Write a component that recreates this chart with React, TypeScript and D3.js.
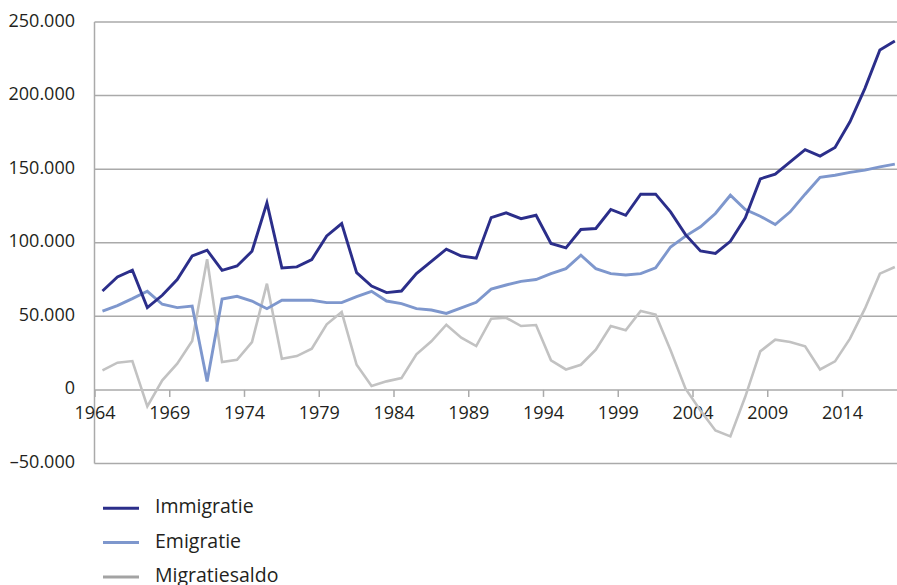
import React from "react";
import * as d3 from "d3";

const years: number[] = [
  1964, 1965, 1966, 1967, 1968, 1969, 1970, 1971, 1972, 1973, 1974, 1975, 1976, 1977,
  1978, 1979, 1980, 1981, 1982, 1983, 1984, 1985, 1986, 1987, 1988, 1989, 1990, 1991,
  1992, 1993, 1994, 1995, 1996, 1997, 1998, 1999, 2000, 2001, 2002, 2003, 2004,
  2005, 2006, 2007, 2008, 2009, 2010, 2011, 2012, 2013, 2014, 2015, 2016, 2017,
];

const immigratie: number[] = [
  67200, 76700, 81300, 55900, 64300, 75000, 91000, 94900, 81300, 84200, 94200, 127100, 82900, 83600,
  88600, 104600, 113000, 79700, 70600, 66100, 67200, 79000, 87400, 95600, 91000, 89500, 117100, 120300,
  116400, 118700, 99500, 96500, 109000, 109700, 122600, 118700, 133000, 133000, 121000, 105500, 94400,
  92700, 101000, 116900, 143400, 146600, 155000, 163200, 158900, 164800, 182200, 204900, 231000, 237100,
];

const emigratie: number[] = [
  53600, 57300, 62000, 67000, 58200, 55900, 57000, 5800, 61800, 63600, 60400, 55200, 60900, 60900,
  60900, 59300, 59300, 63400, 67000, 60400, 58600, 55200, 54300, 52000, 55700, 59500, 68500, 71300,
  73800, 75000, 79000, 82400, 91500, 82400, 79000, 78100, 79000, 82900, 97100, 104500, 110800,
  119900, 132300, 122600, 118000, 112400, 121000, 133000, 144400, 145900, 147800, 149300, 151600, 153400,
];

const migratiesaldo: number[] = [
  13300, 18500, 19600, -11200, 6500, 17800, 33200, 88800, 18900, 20500, 32500, 72200, 21200, 23000,
  28000, 44600, 52900, 17100, 2600, 5800, 8000, 24200, 33000, 44300, 35500, 29800, 48400, 49000,
  43400, 44100, 20100, 13900, 17100, 27300, 43400, 40500, 53600, 51200, 26900, 800, -14000,
  -27600, -31600, -4500, 26200, 34100, 32500, 29600, 13900, 19400, 34800, 55200, 79000, 83500,
];

const yTicks: number[] = [-50000, 0, 50000, 100000, 150000, 200000, 250000];
const yTickLabels: string[] = ["\u201350.000", "0", "50.000", "100.000", "150.000", "200.000", "250.000"];
const xTickYears: number[] = [1964, 1969, 1974, 1979, 1984, 1989, 1994, 1999, 2004, 2009, 2014];

const seriesNames: string[] = ["Immigratie", "Emigratie", "Migratiesaldo"];
const seriesColors: string[] = ["#2b2e8a", "#7e97cd", "#c2c2c2"];
const legendColors: string[] = ["#2b2e8a", "#7e97cd", "#a3a3a3"];

export default function App() {
  const W = 897;
  const H = 585;
  const left = 94.5;
  const bw = 14.95;
  const x = d3
    .scaleBand<number>()
    .domain(years)
    .range([95, 95 + years.length * bw])
    .paddingInner(0)
    .paddingOuter(0);
  const y = d3.scaleLinear().domain([-50000, 250000]).range([463.5, 22]);

  const series = [immigratie, emigratie, migratiesaldo];
  const line = d3
    .line<number>()
    .x((_, i) => (x(years[i]) as number) + x.bandwidth() / 2)
    .y((d) => y(d));

  const font = "'Open Sans', 'Noto Sans', sans-serif";
  const textColor = "#231f20";
  const gridColor = "#aaaaaa";

  return (
    <svg
      width={W}
      height={H}
      style={{ position: "absolute", left: 0, top: 0, background: "#fff" }}
      fontFamily={font}
    >
      {/* gridlines */}
      {yTicks.map((t) => (
        <line key={"g" + t} x1={left} x2={W + 10} y1={y(t)} y2={y(t)} stroke={gridColor} strokeWidth={1.5} />
      ))}
      {/* y axis line */}
      <line x1={left} x2={left} y1={y(250000)} y2={y(-50000)} stroke={gridColor} strokeWidth={1.5} />
      {/* x ticks on zero line */}
      {xTickYears.map((yr) => (
        <line
          key={"t" + yr}
          x1={(x(yr) as number)}
          x2={(x(yr) as number)}
          y1={y(0)}
          y2={y(0) + 7}
          stroke={gridColor}
          strokeWidth={1.5}
        />
      ))}
      {/* y labels */}
      {yTicks.map((t, i) => (
        <text
          key={"yl" + t}
          x={75}
          y={y(t) + 4.5}
          textAnchor="end"
          fontSize={18}
          fill={textColor}
        >
          {yTickLabels[i]}
        </text>
      ))}
      {/* x labels */}
      {xTickYears.map((yr) => (
        <text key={"xl" + yr} x={x(yr) as number} y={419} textAnchor="middle" fontSize={18} fill={textColor}>
          {String(yr)}
        </text>
      ))}
      {/* series lines (draw saldo first) */}
      {[2, 1, 0].map((si) => (
        <path
          key={"s" + si}
          d={line(series[si]) || ""}
          fill="none"
          stroke={seriesColors[si]}
          strokeWidth={si === 2 ? 2.6 : 2.9}
          strokeLinejoin="miter"
        />
      ))}
      {/* legend */}
      {seriesNames.map((name, i) => {
        const ly = [508.3, 542.5, 577][i];
        return (
          <g key={"lg" + i}>
            <line x1={103} x2={139} y1={ly} y2={ly} stroke={legendColors[i]} strokeWidth={3} />
            <text x={155} y={ly + 5} fontSize={19.5} fill={textColor}>
              {name}
            </text>
          </g>
        );
      })}
    </svg>
  );
}
